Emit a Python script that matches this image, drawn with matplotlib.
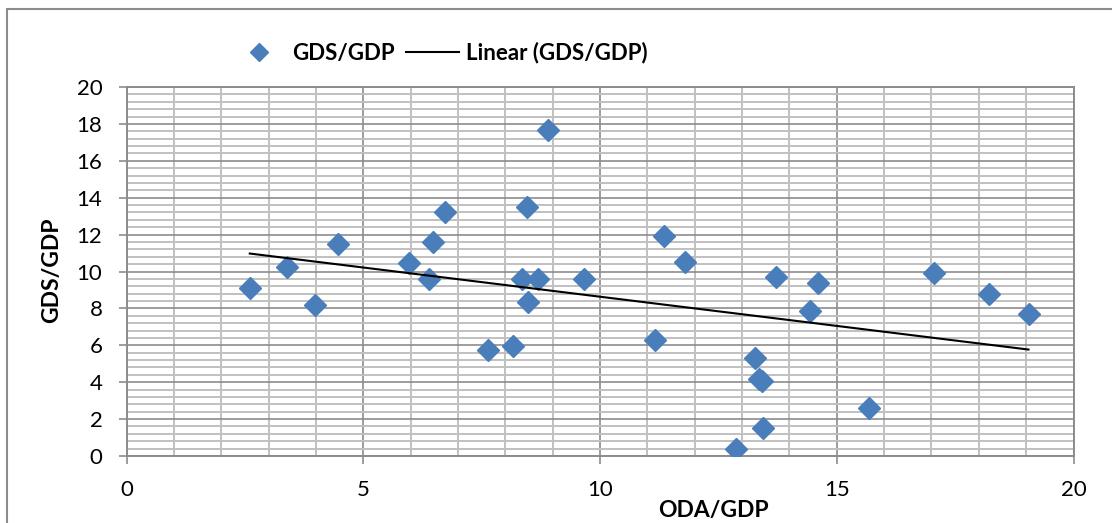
import numpy as np
import matplotlib
matplotlib.use("Agg")
import matplotlib.pyplot as plt
from matplotlib.ticker import MultipleLocator
from matplotlib.patches import Rectangle

plt.rcParams['font.family'] = ['Lato', 'DejaVu Sans']

# ODA/GDP (x) and GDS/GDP (y) per country
oda_gdp = [2.60, 3.38, 3.97, 4.47, 5.97, 6.39, 6.46, 6.72, 7.63, 8.17, 8.35,
           8.46, 8.47, 8.68, 8.91, 9.67, 11.16, 11.34, 11.79, 12.87, 13.27,
           13.35, 13.42, 13.44, 13.72, 14.44, 14.61, 15.69, 17.05, 18.22, 19.05]
gds_gdp = [9.09, 10.22, 8.18, 11.49, 10.45, 9.58, 11.62, 13.23, 5.75, 5.94, 9.61,
           13.49, 8.33, 9.58, 17.67, 9.58, 6.29, 11.92, 10.52, 0.39, 5.30,
           4.20, 4.04, 1.50, 9.70, 7.88, 9.38, 2.59, 9.91, 8.77, 7.71]
x_ticks = [0, 5, 10, 15, 20]
y_ticks = [0, 2, 4, 6, 8, 10, 12, 14, 16, 18, 20]

W, H = 1112, 523
fig = plt.figure(figsize=(W / 100, H / 100), dpi=100)
ax = fig.add_axes([126.7 / W, 1 - 456 / H, (1073.5 - 126.7) / W, (456 - 87) / H])

blue = '#4A7EBB'
major_c = '#8C8C8C'
minor_c = '#C0C0C0'

ax.set_xlim(0, 20)
ax.set_ylim(0, 20)
ax.set_xticks(x_ticks)
ax.set_yticks(y_ticks)
ax.xaxis.set_minor_locator(MultipleLocator(1))
ax.yaxis.set_minor_locator(MultipleLocator(0.4))
ax.grid(which='minor', color=minor_c, linewidth=1.4)
ax.grid(which='major', color=major_c, linewidth=1.2)
ax.set_axisbelow(True)
ax.tick_params(which='major', length=5.5, width=1.2, color=major_c,
               labelsize=16, pad=12, labelcolor='black')
ax.tick_params(which='minor', length=0)
for s in ax.spines.values():
    s.set_color(major_c)
    s.set_linewidth(1.4)

# scatter points
ax.plot(oda_gdp, gds_gdp, linestyle='none', marker='D', markersize=11,
        color=blue, markeredgecolor=blue, label='GDS/GDP', zorder=3)

# least-squares trend line over the data range
xa = np.array(oda_gdp)
ya = np.array(gds_gdp)
slope, intercept = np.polyfit(xa, ya, 1)
xs = np.array([xa.min(), xa.max()])
ax.plot(xs, slope * xs + intercept, color='black', linewidth=1.5,
        label='Linear (GDS/GDP)', zorder=4)

fig.text(52 / W, 1 - 270 / H, 'GDS/GDP', rotation=90, ha='center', va='center',
         fontsize=16.5, fontweight='bold')
fig.text(713 / W, 1 - 510 / H, 'ODA/GDP', ha='center', va='center',
         fontsize=16.5, fontweight='bold')

leg = fig.legend(loc='center', bbox_to_anchor=(440 / W, 1 - 53 / H), ncol=2,
                 frameon=False, prop={'weight': 'bold', 'size': 16},
                 handlelength=2.4, handletextpad=0.3, columnspacing=0.5,
                 markerscale=0.85)

# outer chart frame
fig.patches.append(Rectangle((7 / W, -0.1), 1.2, 1 - 9 / H + 0.1,
                             transform=fig.transFigure, fill=False,
                             edgecolor='#8C8C8C', linewidth=1.5))

fig.savefig('out.png', dpi=100)
